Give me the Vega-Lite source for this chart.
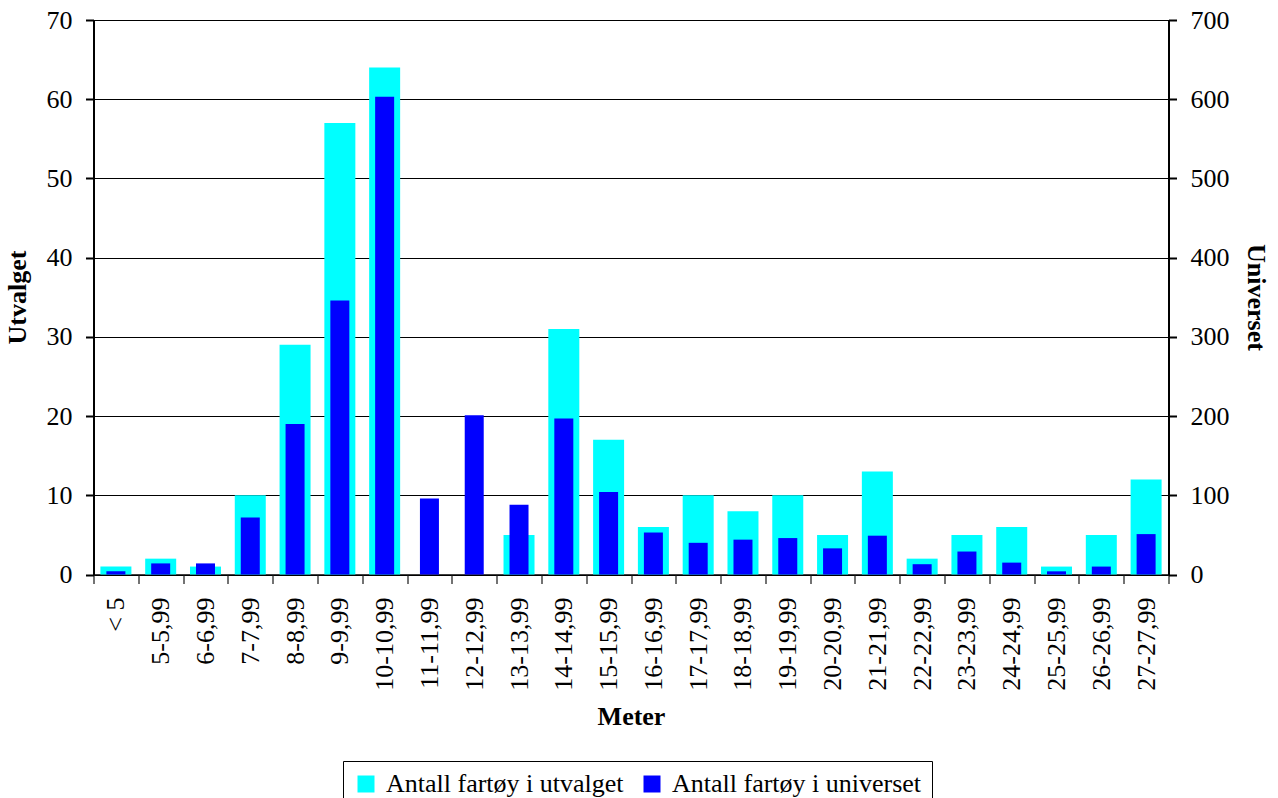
{
  "$schema": "https://vega.github.io/schema/vega-lite/v6.json",
  "autosize": "none",
  "width": 1075,
  "height": 554.5,
  "padding": {"left": 93.5, "top": 20, "right": 109.5, "bottom": 223.5},
  "background": "white",
  "config": {
    "font": "Liberation Serif",
    "view": {"stroke": null},
    "axis": {
      "labelFont": "Liberation Serif",
      "labelFontSize": 26,
      "labelColor": "black",
      "titleFont": "Liberation Serif",
      "titleFontSize": 26,
      "titleFontWeight": "bold",
      "titleColor": "black",
      "domainColor": "black",
      "tickColor": "black"
    },
    "legend": {
      "labelFont": "Liberation Serif",
      "labelFontSize": 26,
      "labelColor": "black",
      "labelLimit": 0
    }
  },
  "data": {
    "values": [
      {"Meter": "< 5", "utvalget": 1, "universet": 4},
      {"Meter": "5-5,99", "utvalget": 2, "universet": 14},
      {"Meter": "6-6,99", "utvalget": 1, "universet": 14},
      {"Meter": "7-7,99", "utvalget": 10, "universet": 72},
      {"Meter": "8-8,99", "utvalget": 29, "universet": 190},
      {"Meter": "9-9,99", "utvalget": 57, "universet": 346},
      {"Meter": "10-10,99", "utvalget": 64, "universet": 603},
      {"Meter": "11-11,99", "utvalget": 0, "universet": 96},
      {"Meter": "12-12,99", "utvalget": 0, "universet": 201},
      {"Meter": "13-13,99", "utvalget": 5, "universet": 88},
      {"Meter": "14-14,99", "utvalget": 31, "universet": 197},
      {"Meter": "15-15,99", "utvalget": 17, "universet": 104},
      {"Meter": "16-16,99", "utvalget": 6, "universet": 53},
      {"Meter": "17-17,99", "utvalget": 10, "universet": 40},
      {"Meter": "18-18,99", "utvalget": 8, "universet": 44},
      {"Meter": "19-19,99", "utvalget": 10, "universet": 46},
      {"Meter": "20-20,99", "utvalget": 5, "universet": 33},
      {"Meter": "21-21,99", "utvalget": 13, "universet": 49},
      {"Meter": "22-22,99", "utvalget": 2, "universet": 13},
      {"Meter": "23-23,99", "utvalget": 5, "universet": 29},
      {"Meter": "24-24,99", "utvalget": 6, "universet": 15},
      {"Meter": "25-25,99", "utvalget": 1, "universet": 4},
      {"Meter": "26-26,99", "utvalget": 5, "universet": 10},
      {"Meter": "27-27,99", "utvalget": 12, "universet": 51}
    ]
  },
  "encoding": {
    "x": {
      "field": "Meter",
      "type": "nominal",
      "sort": null,
      "scale": {"paddingInner": 0, "paddingOuter": 0},
      "axis": {
        "title": "Meter",
        "labelAngle": -90,
        "tickBand": "extent",
        "tickSize": 9,
        "tickWidth": 1.5,
        "tickColor": "#444444",
        "domainWidth": 1.5,
        "labelPadding": 13.5,
        "titleBaseline": "middle",
        "titleY": 141.5,
        "grid": false
      }
    }
  },
  "layer": [
    {
      "mark": {"type": "bar", "size": 31},
      "encoding": {
        "y": {
          "field": "utvalget",
          "type": "quantitative",
          "scale": {"domain": [0, 70], "nice": false},
          "axis": {
            "orient": "left",
            "title": "Utvalget",
            "values": [0, 10, 20, 30, 40, 50, 60, 70],
            "grid": true,
            "gridColor": "black",
            "gridWidth": 1,
            "gridOpacity": 1,
            "domainWidth": 2,
            "tickWidth": 2,
            "tickSize": 8,
            "labelPadding": 13.5,
            "titleAngle": -90,
            "titleBaseline": "middle",
            "titleX": -76,
            "titleY": 277
          }
        },
        "color": {
          "datum": "Antall fartøy i utvalget",
          "type": "nominal",
          "scale": {
            "domain": ["Antall fartøy i utvalget", "Antall fartøy i universet"],
            "range": ["#00FFFF", "#0000FF"]
          },
          "legend": {
            "title": null,
            "orient": "none",
            "direction": "horizontal",
            "columns": 2,
            "legendX": 249.5,
            "legendY": 741,
            "padding": 10,
            "strokeColor": "black",
            "fillColor": "white",
            "symbolType": "square",
            "symbolSize": 289,
            "symbolStrokeWidth": 0,
            "symbolOpacity": 1,
            "labelOffset": 7,
            "labelLimit": 0,
            "columnPadding": 15
          }
        }
      }
    },
    {
      "mark": {"type": "bar", "size": 19},
      "encoding": {
        "y": {
          "field": "universet",
          "type": "quantitative",
          "scale": {"domain": [0, 700], "nice": false},
          "axis": {
            "orient": "right",
            "title": "Universet",
            "values": [0, 100, 200, 300, 400, 500, 600, 700],
            "grid": false,
            "domainWidth": 2,
            "tickWidth": 2,
            "tickSize": 8,
            "labelPadding": 13.5,
            "titleAngle": 90,
            "titleBaseline": "middle",
            "titleX": 86.5,
            "titleY": 277
          }
        },
        "color": {"datum": "Antall fartøy i universet", "type": "nominal"}
      }
    }
  ],
  "resolve": {"scale": {"y": "independent"}}
}
